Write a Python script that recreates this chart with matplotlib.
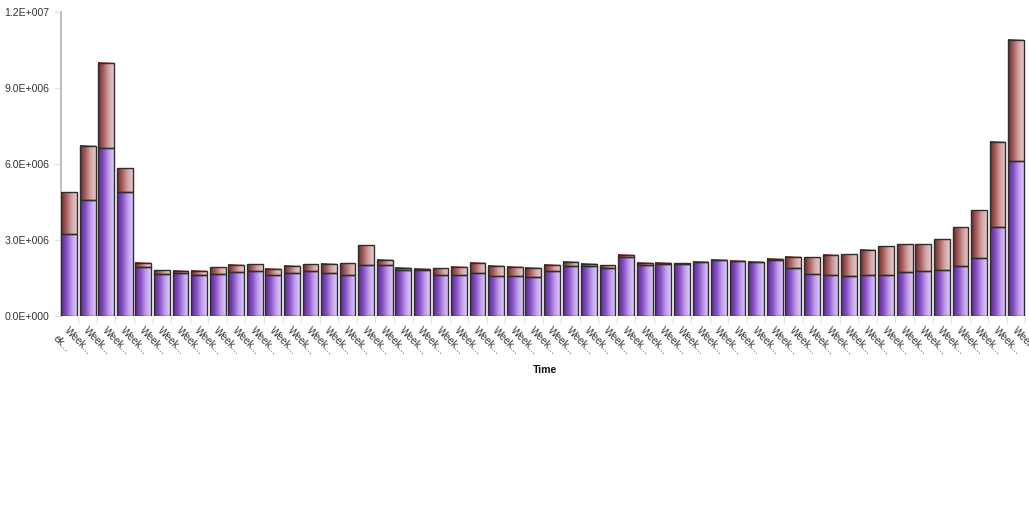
import numpy as np
import matplotlib
matplotlib.use("Agg")
import matplotlib.pyplot as plt
from matplotlib.colors import LinearSegmentedColormap
import matplotlib.transforms as mtransforms

plt.rcParams['font.family'] = ['Liberation Sans', 'DejaVu Sans']

# ---- data (values in millions) ----
categories = ["Week..."] * 52
series_low = [3.24, 4.56, 6.62, 4.91, 1.91, 1.66, 1.69, 1.60, 1.65, 1.74,
              1.76, 1.60, 1.68, 1.78, 1.68, 1.62, 2.01, 1.99, 1.79, 1.82,
              1.62, 1.60, 1.69, 1.58, 1.58, 1.53, 1.77, 1.98, 1.95, 1.90,
              2.31, 1.99, 2.03, 2.05, 2.11, 2.19, 2.15, 2.12, 2.19, 1.89,
              1.66, 1.62, 1.58, 1.60, 1.62, 1.74, 1.78, 1.82, 1.98, 2.30,
              3.49, 6.11]
series_total = [4.885, 6.73, 10.01, 5.84, 2.09, 1.80, 1.78, 1.76, 1.91, 2.02,
                2.03, 1.85, 1.98, 2.05, 2.06, 2.09, 2.79, 2.19, 1.89, 1.86,
                1.87, 1.93, 2.09, 1.98, 1.94, 1.89, 2.01, 2.14, 2.06, 1.99,
                2.40, 2.07, 2.09, 2.07, 2.13, 2.21, 2.17, 2.14, 2.25, 2.33,
                2.33, 2.42, 2.43, 2.60, 2.75, 2.82, 2.82, 3.02, 3.49, 4.17,
                6.87, 10.92]
series_high = [t - l for t, l in zip(series_total, series_low)]
yticks = [0, 3e6, 6e6, 9e6, 12e6]
ytick_labels = ["0.0E+000", "3.0E+006", "6.0E+006", "9.0E+006", "1.2E+007"]

low = np.array(series_low) * 1e6
high = np.array(series_high) * 1e6

W, H = 1029, 512
fig = plt.figure(figsize=(W / 100, H / 100), dpi=100)
ax = fig.add_axes([60.7 / W, (H - 315.7) / H, (W - 60.7) / W, (315.7 - 12.3) / H])

x = np.arange(len(categories))
bw = 0.85
b1 = ax.bar(x, low, width=bw, facecolor='none', edgecolor='#2e2e2e', linewidth=1.0, zorder=3)
b2 = ax.bar(x, high, width=bw, bottom=low, facecolor='none', edgecolor='#2e2e2e', linewidth=1.0, zorder=3)

cm_purple = LinearSegmentedColormap.from_list('p', ['#5f209a', '#8250c0', '#bd9ae6', '#dccbf6'])
cm_red = LinearSegmentedColormap.from_list('r', ['#772222', '#a45e5e', '#d0a4a4', '#e6c8c8'])
grad = np.linspace(0, 1, 64).reshape(1, -1)
for bars, cm in ((b1, cm_purple), (b2, cm_red)):
    for p in bars:
        x0, y0, w, h = p.get_x(), p.get_y(), p.get_width(), p.get_height()
        if h <= 0:
            continue
        ax.imshow(grad, cmap=cm, extent=(x0, x0 + w, y0, y0 + h), aspect='auto',
                  interpolation='bilinear', zorder=2)

ax.set_xlim(-0.45, -0.45 + (W - 60.7) / 18.57)
ax.set_ylim(0, 12e6)

ax.set_yticks(yticks)
ax.set_yticklabels(ytick_labels, fontsize=7.6, color='#333333')
ax.tick_params(axis='y', length=5, width=1, color='#dce6f2', pad=3)

ax.set_xticks(x)
ax.set_xticks(x + 0.5, minor=True)
ax.tick_params(axis='x', which='major', length=0, pad=7)
ax.tick_params(axis='x', which='minor', length=5, width=1, color='#dce6f2')
ax.set_xticklabels(categories, fontsize=7.3, color='#333333', rotation=-45,
                   ha='left', va='top', rotation_mode='anchor')
offset = mtransforms.ScaledTranslation(1 / 100, 0, fig.dpi_scale_trans)
for lab in ax.get_xticklabels():
    lab.set_transform(lab.get_transform() + offset)

for s in ('top', 'right', 'bottom'):
    ax.spines[s].set_visible(False)
ax.spines['left'].set_color('#b4b4b4')
ax.spines['left'].set_linewidth(1.2)

ax.set_xlabel('Time', fontsize=7.6, fontweight='bold', color='#111111', labelpad=6)

fig.text(58 / W, 1 - 333 / H, 'ek...', fontsize=7.3, color='#333333', rotation=-45,
         ha='left', va='top', rotation_mode='anchor')

fig.savefig('out.png', dpi=100)
